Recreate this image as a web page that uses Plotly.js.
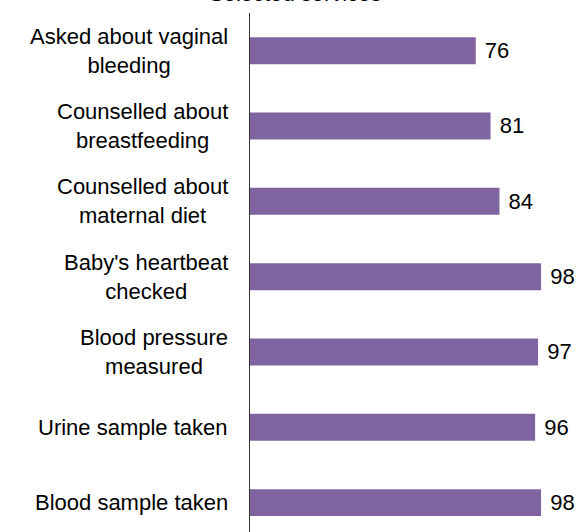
<!DOCTYPE html>
<html>
<head>
<meta charset="utf-8">
<script src="https://cdn.plot.ly/plotly-3.0.1.min.js"></script>
<style>html,body{margin:0;padding:0;background:#fff;}#chart{width:577px;height:532px;}</style>
</head>
<body>
<div id="chart"></div>
<script>
const categories = [
  "Asked about vaginal<br>bleeding",
  "Counselled about<br>breastfeeding",
  "Counselled about<br>maternal diet",
  "Baby's heartbeat<br>checked",
  "Blood pressure<br>measured",
  "Urine sample taken",
  "Blood sample taken"
];
const values = [76, 81, 84, 98, 97, 96, 98];
const titleText = "Selected services";

const FONT = "Arial, 'Liberation Sans', sans-serif";

const trace = {
  type: "bar",
  orientation: "h",
  x: values,
  y: categories,
  marker: {color: "#8064A2"},
  text: values.map(v => " " + v),
  textposition: "outside",
  textfont: {family: FONT, size: 22, color: "#000"},
  cliponaxis: false,
  hoverinfo: "none"
};

const annotations = categories.map(c => ({
  xref: "paper", yref: "y",
  x: -21/297, y: c,
  xanchor: "right", yanchor: "middle",
  align: "center",
  text: c,
  showarrow: false,
  borderpad: 0,
  font: {family: FONT, size: 22, color: "#000"}
}));

// chart title (cut off at the top edge in the reference)
annotations.push({
  xref: "paper", yref: "paper",
  x: (295 - 250) / 297, y: 1 + 6 / 519,
  xanchor: "center", yanchor: "bottom",
  text: titleText,
  showarrow: false,
  borderpad: 0,
  font: {family: FONT, size: 22, color: "#000"}
});

const layout = {
  width: 577, height: 532,
  margin: {l: 250, r: 30, t: 13, b: 0, pad: 0},
  paper_bgcolor: "#fff", plot_bgcolor: "#fff",
  showlegend: false,
  bargap: 0.642,
  xaxis: {
    range: [0, 100],
    showline: false, showgrid: false, zeroline: false,
    showticklabels: false, ticks: ""
  },
  yaxis: {
    type: "category",
    categoryorder: "array", categoryarray: categories,
    range: [6.39, -0.5],
    showline: true, linecolor: "#333", linewidth: 1,
    showgrid: false, zeroline: false,
    showticklabels: false, ticks: ""
  },
  annotations: annotations
};

Plotly.newPlot("chart", [trace], layout, {displayModeBar: false, staticPlot: true});
</script>
</body>
</html>
